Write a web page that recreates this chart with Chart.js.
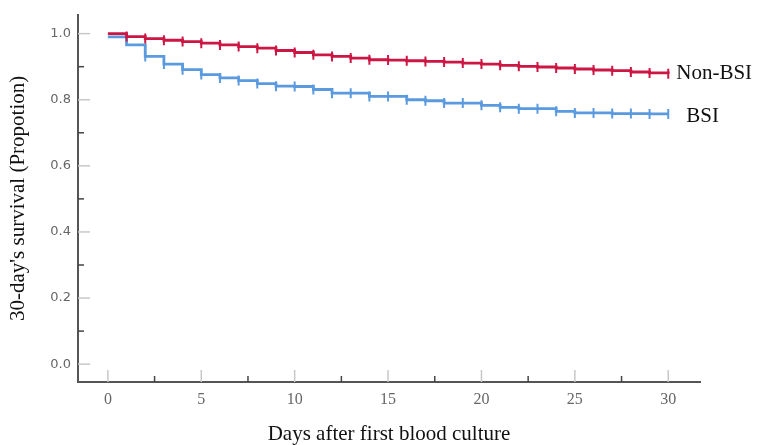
<!DOCTYPE html>
<html>
<head>
<meta charset="utf-8">
<script src="https://cdn.jsdelivr.net/npm/chart.js"></script>
<style>
  body { margin: 0; background: #fff; }
</style>
</head>
<body>
<canvas id="km" width="757" height="445"></canvas>
<script>
// days of follow-up
const days = [0, 1, 2, 3, 4, 5, 6, 7, 8, 9, 10, 11, 12, 13, 14, 15, 16, 17, 18, 19, 20, 21, 22, 23, 24, 25, 26, 27, 28, 29, 30];

// survival proportion, non-BSI group
const nonBsi = [1.0, 0.991, 0.985, 0.980, 0.976, 0.971, 0.966, 0.961, 0.956, 0.949, 0.943,
  0.936, 0.931, 0.926, 0.921, 0.920, 0.918, 0.916, 0.914, 0.911, 0.908,
  0.904, 0.901, 0.899, 0.896, 0.893, 0.890, 0.888, 0.884, 0.881, 0.879];

// survival proportion, BSI group
const bsi = [0.99, 0.966, 0.931, 0.908, 0.891, 0.876, 0.866, 0.858, 0.849, 0.841, 0.840,
  0.831, 0.820, 0.820, 0.810, 0.810, 0.800, 0.797, 0.790, 0.790, 0.783,
  0.777, 0.773, 0.773, 0.765, 0.760, 0.760, 0.758, 0.758, 0.757, 0.757];

const seriesNames = ['Non-BSI', 'BSI'];
const xTicks = [0, 5, 10, 15, 20, 25, 30];
const yTicks = [0, 0.2, 0.4, 0.6, 0.8, 1.0];
const xMinor = [2.5, 7.5, 12.5, 17.5, 22.5, 27.5];
const yMinor = [0.1, 0.3, 0.5, 0.7, 0.9];

const RED = '#cc1644';
const BLUE = '#5b9ade';

function toPoints(vals) {
  return days.map((d, i) => ({ x: d, y: vals[i] }));
}

// tick marks drawn inside the plot, like the SPSS output
const innerTicks = {
  id: 'innerTicks',
  beforeDatasetsDraw(chart) {
    const { ctx, scales: { x, y } } = chart;
    ctx.save();
    ctx.lineWidth = 1.5;
    ctx.strokeStyle = '#c8c8c8';
    yTicks.forEach(v => {
      const py = y.getPixelForValue(v);
      ctx.beginPath(); ctx.moveTo(x.left, py); ctx.lineTo(x.left + 12, py); ctx.stroke();
    });
    xTicks.forEach(v => {
      const px = x.getPixelForValue(v);
      ctx.beginPath(); ctx.moveTo(px, y.bottom); ctx.lineTo(px, y.bottom - 12); ctx.stroke();
    });
    ctx.strokeStyle = '#444';
    yMinor.forEach(v => {
      const py = y.getPixelForValue(v);
      ctx.beginPath(); ctx.moveTo(x.left, py); ctx.lineTo(x.left + 6, py); ctx.stroke();
    });
    xMinor.forEach(v => {
      const px = x.getPixelForValue(v);
      ctx.beginPath(); ctx.moveTo(px, y.bottom); ctx.lineTo(px, y.bottom - 6); ctx.stroke();
    });
    ctx.restore();
  }
};

// group names written at the end of each curve
const endLabels = {
  id: 'endLabels',
  afterDatasetsDraw(chart) {
    const { ctx } = chart;
    ctx.save();
    ctx.font = '21px "Liberation Serif", serif';
    ctx.fillStyle = '#111';
    ctx.textBaseline = 'middle';
    chart.data.datasets.forEach((ds, i) => {
      const pts = chart.getDatasetMeta(i).data;
      const last = pts[pts.length - 1];
      const dx = i === 0 ? 8 : 18;
      const dy = i === 0 ? 0 : 3;
      ctx.fillText(seriesNames[i], last.x + dx, last.y + dy);
    });
    ctx.restore();
  }
};

function radii(first) {
  return days.map((d, i) => (i < first ? 0 : 5));
}

new Chart(document.getElementById('km'), {
  type: 'line',
  data: {
    datasets: [
      {
        label: seriesNames[0],
        data: toPoints(nonBsi),
        stepped: true,
        borderColor: RED,
        borderWidth: 2.8,
        pointStyle: 'line',
        rotation: 90,
        pointRadius: radii(1),
        pointBorderColor: RED,
        pointBorderWidth: 2
      },
      {
        label: seriesNames[1],
        data: toPoints(bsi),
        stepped: true,
        borderColor: BLUE,
        borderWidth: 2.8,
        pointStyle: 'line',
        rotation: 90,
        pointRadius: radii(2),
        pointBorderColor: BLUE,
        pointBorderWidth: 2
      }
    ]
  },
  options: {
    responsive: false,
    animation: false,
    layout: { padding: { top: 13, right: 57, bottom: 0, left: 0 } },
    plugins: {
      legend: { display: false },
      tooltip: { enabled: false }
    },
    scales: {
      x: {
        type: 'linear',
        min: -1.6,
        max: 31.7,
        afterFit(scale) { scale.height = 63; },
        afterBuildTicks(scale) { scale.ticks = xTicks.map(v => ({ value: v })); },
        grid: { display: false, drawTicks: false },
        border: { display: true, color: '#555', width: 2 },
        ticks: {
          padding: 8,
          color: '#666',
          font: { family: "'Liberation Serif', serif", size: 16 }
        },
        title: {
          display: true,
          text: 'Days after first blood culture',
          color: '#111',
          padding: { top: 0, bottom: 0 },
          font: { family: "'Liberation Serif', serif", size: 21, lineHeight: 1 }
        }
      },
      y: {
        type: 'linear',
        min: -0.054,
        max: 1.057,
        afterFit(scale) { scale.width = 78; },
        afterBuildTicks(scale) { scale.ticks = yTicks.map(v => ({ value: v })); },
        grid: { display: false, drawTicks: false },
        border: { display: true, color: '#555', width: 2 },
        ticks: {
          padding: 7,
          color: '#666',
          font: { family: "'DejaVu Sans', sans-serif", size: 13 },
          callback: v => v.toFixed(1)
        },
        title: {
          display: true,
          text: "30-day's survival (Propotion)",
          color: '#111',
          padding: { top: 8, bottom: 0 },
          font: { family: "'Liberation Serif', serif", size: 21, lineHeight: 1 }
        }
      }
    }
  },
  plugins: [innerTicks, endLabels]
});
</script>
</body>
</html>
